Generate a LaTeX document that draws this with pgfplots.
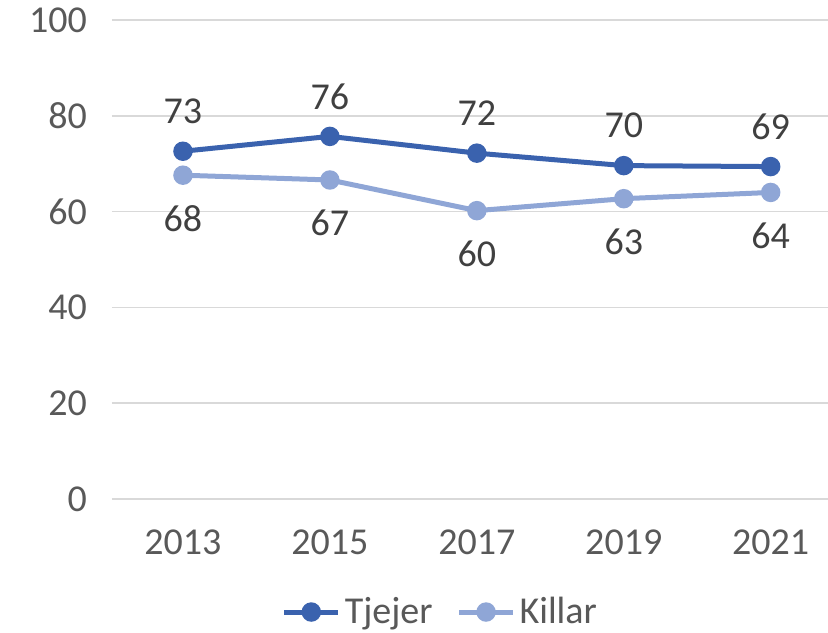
\documentclass[border=0pt]{standalone}
\usepackage{pgfplots}
\pgfplotsset{compat=1.18}
\usepackage{fontspec}
\setmainfont{Carlito}
\definecolor{tjej}{HTML}{3A62AE}
\definecolor{kill}{HTML}{8FA6D6}
\definecolor{txt}{HTML}{595959}
\definecolor{lbl}{HTML}{404040}
\definecolor{grd}{HTML}{D9D9D9}
\begin{document}
\begin{tikzpicture}
\begin{axis}[
    scale only axis,
    width=358pt, height=239.5pt,
    xmin=-0.483, xmax=4.39,
    ymin=0, ymax=100,
    xtick={0,1,2,3,4},
    xticklabels={2013,2015,2017,2019,2021},
    ytick={0,20,40,60,80,100},
    ymajorgrids, grid style={grd, line width=0.75pt},
    axis line style={draw=none},
    major tick length=0pt,
    tick label style={font=\fontsize{19}{21}\selectfont, text=txt},
    /pgf/number format/assume math mode=true,
    yticklabel style={xshift=-9pt},
    xticklabel style={yshift=-12pt},
    clip=false,
    nodes near coords,
    point meta=y,
    nodes near coords style={font=\fontsize{19}{21}\selectfont, text=lbl,
        anchor=center, /pgf/number format/fixed, /pgf/number format/precision=0},
    legend style={at={(0.46,-0.236)}, anchor=center, draw=none,
        legend columns=2, font=\fontsize{19}{21}\selectfont, text=txt,
        /tikz/every even column/.append style={column sep=10pt}},
    legend image code/.code={
        \draw[#1, line width=2.5pt] (0pt,0pt) -- (27pt,0pt);
        \fill[#1] (13.5pt,0pt) circle (3.6pt);
    },
]
\addplot[tjej, line width=2.5pt, mark=*, mark size=3.6pt,
    every node near coord/.append style={yshift=20pt}]
    coordinates {(0,72.6) (1,75.7) (2,72.2) (3,69.6) (4,69.4)};
\addlegendentry{Tjejer}
\addplot[kill, line width=2.5pt, mark=*, mark size=3.6pt,
    every node near coord/.append style={yshift=-21.5pt}]
    coordinates {(0,67.6) (1,66.6) (2,60.2) (3,62.7) (4,64.0)};
\addlegendentry{Killar}
\coordinate (bl) at (rel axis cs:0,0);
\coordinate (tr) at (rel axis cs:1,1);
\end{axis}
\pgfresetboundingbox
\path ([shift={(-56pt,-67pt)}]bl) rectangle ([shift={(0pt,10pt)}]tr);
\end{tikzpicture}
\end{document}
